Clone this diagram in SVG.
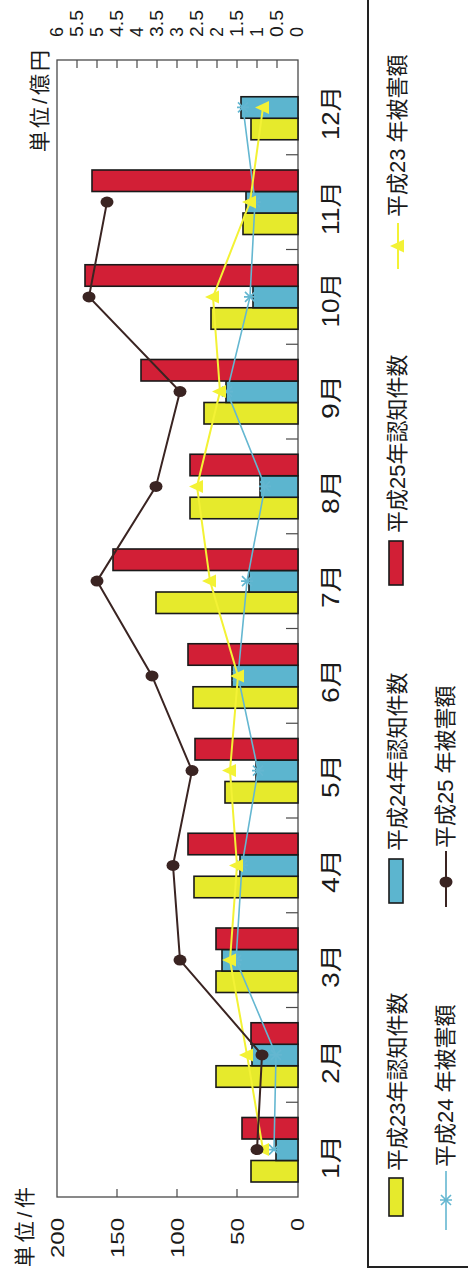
<svg xmlns="http://www.w3.org/2000/svg" width="468" height="1279" viewBox="0 0 468 1279">
<style>
text{font-family:"Liberation Sans","Noto Sans CJK JP",sans-serif;fill:#1a1a1a}
.ax{font-size:19px}
.sx{font-size:18px}
.mo{font-size:23px}
.lg{font-size:22px}
.u{font-size:21px}
.bY{fill:#e6ea2c;stroke:#1a1a1a;stroke-width:1.6}
.bB{fill:#5cb5cf;stroke:#1a1a1a;stroke-width:1.6}
.bR{fill:#d21f36;stroke:#1a1a1a;stroke-width:1.6}
.lY{fill:none;stroke:#f3f235;stroke-width:2}
.lB{fill:none;stroke:#64b7d1;stroke-width:1.6}
.lK{fill:none;stroke:#3a2422;stroke-width:2}
.frame{fill:none;stroke:#4a4a4a;stroke-width:1.3}
.tk{stroke:#4a4a4a;stroke-width:1.2}
</style>
<defs>
<path id="tri" d="M0,-8 L6.5,6 L-6.5,6 Z" fill="#f3f235"/>
<path id="crs" d="M-5,-5 L5,5 M-5,5 L5,-5 M0,-6 L0,6" stroke="#64b7d1" stroke-width="1.6" fill="none"/>
<ellipse id="dot" rx="5.5" ry="6.5" fill="#3a2422"/>
</defs>
<rect width="468" height="1279" fill="#ffffff"/>
<g transform="translate(0,1279) rotate(-90)">
<g id="axes">
<rect class="frame" x="82" y="57" width="1137" height="241"/>
<g class="tk">
<line x1="176.75" y1="286" x2="176.75" y2="298"/><line x1="271.5" y1="286" x2="271.5" y2="298"/>
<line x1="366.25" y1="286" x2="366.25" y2="298"/><line x1="461" y1="286" x2="461" y2="298"/>
<line x1="555.75" y1="286" x2="555.75" y2="298"/><line x1="650.5" y1="286" x2="650.5" y2="298"/>
<line x1="745.25" y1="286" x2="745.25" y2="298"/><line x1="840" y1="286" x2="840" y2="298"/>
<line x1="934.75" y1="286" x2="934.75" y2="298"/><line x1="1029.5" y1="286" x2="1029.5" y2="298"/>
<line x1="1124.25" y1="286" x2="1124.25" y2="298"/>
<line x1="82" y1="117" x2="90" y2="117"/><line x1="82" y1="177" x2="90" y2="177"/><line x1="82" y1="237" x2="90" y2="237"/>
<line x1="1211" y1="77" x2="1219" y2="77"/><line x1="1211" y1="97" x2="1219" y2="97"/><line x1="1211" y1="117" x2="1219" y2="117"/>
<line x1="1211" y1="137" x2="1219" y2="137"/><line x1="1211" y1="157" x2="1219" y2="157"/><line x1="1211" y1="177" x2="1219" y2="177"/>
<line x1="1211" y1="197" x2="1219" y2="197"/><line x1="1211" y1="217" x2="1219" y2="217"/><line x1="1211" y1="237" x2="1219" y2="237"/>
<line x1="1211" y1="257" x2="1219" y2="257"/><line x1="1211" y1="277" x2="1219" y2="277"/>
</g>
<g class="ax" text-anchor="end">
<text x="61" y="64" textLength="40" lengthAdjust="spacingAndGlyphs">200</text>
<text x="61" y="124" textLength="40" lengthAdjust="spacingAndGlyphs">150</text>
<text x="61" y="184" textLength="40" lengthAdjust="spacingAndGlyphs">100</text>
<text x="61" y="244" textLength="27" lengthAdjust="spacingAndGlyphs">50</text>
<text x="61" y="304" textLength="13" lengthAdjust="spacingAndGlyphs">0</text>
</g>
<g class="sx">
<text x="1242" y="63" textLength="10" lengthAdjust="spacingAndGlyphs">6</text>
<text x="1242" y="83" textLength="27" lengthAdjust="spacingAndGlyphs">5.5</text>
<text x="1242" y="103" textLength="10" lengthAdjust="spacingAndGlyphs">5</text>
<text x="1242" y="123" textLength="27" lengthAdjust="spacingAndGlyphs">4.5</text>
<text x="1242" y="143" textLength="10" lengthAdjust="spacingAndGlyphs">4</text>
<text x="1242" y="163" textLength="27" lengthAdjust="spacingAndGlyphs">3.5</text>
<text x="1242" y="183" textLength="10" lengthAdjust="spacingAndGlyphs">3</text>
<text x="1242" y="203" textLength="27" lengthAdjust="spacingAndGlyphs">2.5</text>
<text x="1242" y="223" textLength="10" lengthAdjust="spacingAndGlyphs">2</text>
<text x="1242" y="243" textLength="27" lengthAdjust="spacingAndGlyphs">1.5</text>
<text x="1242" y="263" textLength="10" lengthAdjust="spacingAndGlyphs">1</text>
<text x="1242" y="283" textLength="27" lengthAdjust="spacingAndGlyphs">0.5</text>
<text x="1242" y="303" textLength="10" lengthAdjust="spacingAndGlyphs">0</text>
</g>
<text class="u" x="12" y="32" textLength="80" lengthAdjust="spacing">単位/件</text>
<text class="u" x="1127" y="47" textLength="102" lengthAdjust="spacing">単位/億円</text>
<g class="mo" text-anchor="middle">
<text x="122" y="339" textLength="44" lengthAdjust="spacingAndGlyphs">1月</text>
<text x="217" y="339" textLength="44" lengthAdjust="spacingAndGlyphs">2月</text>
<text x="313" y="339" textLength="44" lengthAdjust="spacingAndGlyphs">3月</text>
<text x="408" y="339" textLength="44" lengthAdjust="spacingAndGlyphs">4月</text>
<text x="503" y="339" textLength="44" lengthAdjust="spacingAndGlyphs">5月</text>
<text x="598" y="339" textLength="44" lengthAdjust="spacingAndGlyphs">6月</text>
<text x="693" y="339" textLength="44" lengthAdjust="spacingAndGlyphs">7月</text>
<text x="787" y="339" textLength="44" lengthAdjust="spacingAndGlyphs">8月</text>
<text x="882" y="339" textLength="44" lengthAdjust="spacingAndGlyphs">9月</text>
<text x="979" y="339" textLength="55" lengthAdjust="spacingAndGlyphs">10月</text>
<text x="1071" y="339" textLength="54" lengthAdjust="spacingAndGlyphs">11月</text>
<text x="1166" y="339" textLength="54" lengthAdjust="spacingAndGlyphs">12月</text>
</g>
</g>
<g id="bars">
<g id="m1"><rect class="bY" x="97" y="251" width="21.5" height="47"/><rect class="bB" x="118.5" y="276" width="21.5" height="22"/><rect class="bR" x="140" y="242" width="21.5" height="56"/></g>
<g id="m2"><rect class="bY" x="191.75" y="216" width="21.5" height="82"/><rect class="bB" x="213.25" y="252" width="21.5" height="46"/><rect class="bR" x="234.75" y="251" width="21.5" height="47"/></g>
<g id="m3"><rect class="bY" x="286.5" y="216" width="21.5" height="82"/><rect class="bB" x="308" y="222" width="21.5" height="76"/><rect class="bR" x="329.5" y="216" width="21.5" height="82"/></g>
<g id="m4"><rect class="bY" x="381.25" y="194" width="21.5" height="104"/><rect class="bB" x="402.75" y="240" width="21.5" height="58"/><rect class="bR" x="424.25" y="188" width="21.5" height="110"/></g>
<g id="m5"><rect class="bY" x="476" y="225" width="21.5" height="73"/><rect class="bB" x="497.5" y="256" width="21.5" height="42"/><rect class="bR" x="519" y="195" width="21.5" height="103"/></g>
<g id="m6"><rect class="bY" x="570.75" y="193" width="21.5" height="105"/><rect class="bB" x="592.25" y="232" width="21.5" height="66"/><rect class="bR" x="613.75" y="188" width="21.5" height="110"/></g>
<g id="m7"><rect class="bY" x="665.5" y="156" width="21.5" height="142"/><rect class="bB" x="687" y="249" width="21.5" height="49"/><rect class="bR" x="708.5" y="113" width="21.5" height="185"/></g>
<g id="m8"><rect class="bY" x="760.25" y="190" width="21.5" height="108"/><rect class="bB" x="781.75" y="260" width="21.5" height="38"/><rect class="bR" x="803.25" y="190" width="21.5" height="108"/></g>
<g id="m9"><rect class="bY" x="855" y="204" width="21.5" height="94"/><rect class="bB" x="876.5" y="226" width="21.5" height="72"/><rect class="bR" x="898" y="141" width="21.5" height="157"/></g>
<g id="m10"><rect class="bY" x="949.75" y="211" width="21.5" height="87"/><rect class="bB" x="971.25" y="253" width="21.5" height="45"/><rect class="bR" x="992.75" y="85" width="21.5" height="213"/></g>
<g id="m11"><rect class="bY" x="1044.5" y="243" width="21.5" height="55"/><rect class="bB" x="1066" y="246" width="21.5" height="52"/><rect class="bR" x="1087.5" y="92" width="21.5" height="206"/></g>
<g id="m12"><rect class="bY" x="1139.25" y="251" width="21.5" height="47"/><rect class="bB" x="1160.75" y="241" width="21.5" height="57"/></g>
</g>
<g id="connectors">
<polyline class="lB" points="129.4,274 224.1,276 318.9,236 413.6,242 508.4,258 603.1,238 697.9,247 792.6,265 887.4,227 982.1,250 1076.9,255 1171.6,243"/>
<g>
<use href="#crs" x="129.4" y="274"/><use href="#crs" x="224.1" y="276"/><use href="#crs" x="318.9" y="236"/><use href="#crs" x="413.6" y="242"/>
<use href="#crs" x="508.4" y="258"/><use href="#crs" x="603.1" y="238"/><use href="#crs" x="697.9" y="247"/><use href="#crs" x="792.6" y="265"/>
<use href="#crs" x="887.4" y="227"/><use href="#crs" x="982.1" y="250"/><use href="#crs" x="1076.9" y="255"/><use href="#crs" x="1171.6" y="243"/>
</g>
<polyline class="lY" points="129.4,263 224.1,247 318.9,230 413.6,237 508.4,230 603.1,238 697.9,210 792.6,197 887.4,220 982.1,213 1076.9,250 1171.6,263"/>
<g>
<use href="#tri" x="129.4" y="263"/><use href="#tri" x="224.1" y="247"/><use href="#tri" x="318.9" y="230"/><use href="#tri" x="413.6" y="237"/>
<use href="#tri" x="508.4" y="230"/><use href="#tri" x="603.1" y="238"/><use href="#tri" x="697.9" y="210"/><use href="#tri" x="792.6" y="197"/>
<use href="#tri" x="887.4" y="220"/><use href="#tri" x="982.1" y="213"/><use href="#tri" x="1076.9" y="250"/><use href="#tri" x="1171.6" y="263"/>
</g>
<polyline class="lK" points="129.4,257 224.1,262 318.9,180 413.6,173 508.4,192 603.1,152 697.9,97 792.6,156 887.4,180 982.1,89 1076.9,107"/>
<g>
<use href="#dot" x="129.4" y="257"/><use href="#dot" x="224.1" y="262"/><use href="#dot" x="318.9" y="180"/><use href="#dot" x="413.6" y="173"/>
<use href="#dot" x="508.4" y="192"/><use href="#dot" x="603.1" y="152"/><use href="#dot" x="697.9" y="97"/><use href="#dot" x="792.6" y="156"/>
<use href="#dot" x="887.4" y="180"/><use href="#dot" x="982.1" y="89"/><use href="#dot" x="1076.9" y="107"/>
</g>
</g>
<g id="legend">
<rect x="12" y="368" width="1300" height="160" fill="none" stroke="#222" stroke-width="2"/>
<g id="lg1"><rect class="bY" x="63" y="389" width="38" height="14"/><text class="lg" x="108" y="405">平成23年認知件数</text></g>
<g id="lg2"><rect class="bB" x="376" y="389" width="44" height="14"/><text class="lg" x="428" y="405">平成24年認知件数</text></g>
<g id="lg3"><rect class="bR" x="694" y="389" width="44" height="14"/><text class="lg" x="746" y="405">平成25年認知件数</text></g>
<g id="lg4"><line class="lY" x1="1010" y1="398" x2="1056" y2="398"/><use href="#tri" x="1033" y="398"/><text class="lg" x="1062" y="405">平成23 年被害額</text></g>
<g id="lg5"><line class="lB" x1="49" y1="446" x2="108" y2="446"/><use href="#crs" x="79" y="446"/><text class="lg" x="112" y="453">平成24 年被害額</text></g>
<g id="lg6"><line class="lK" x1="372" y1="446" x2="428" y2="446"/><use href="#dot" x="397" y="446"/><text class="lg" x="431" y="453">平成25 年被害額</text></g>
</g>
</g>
</svg>
